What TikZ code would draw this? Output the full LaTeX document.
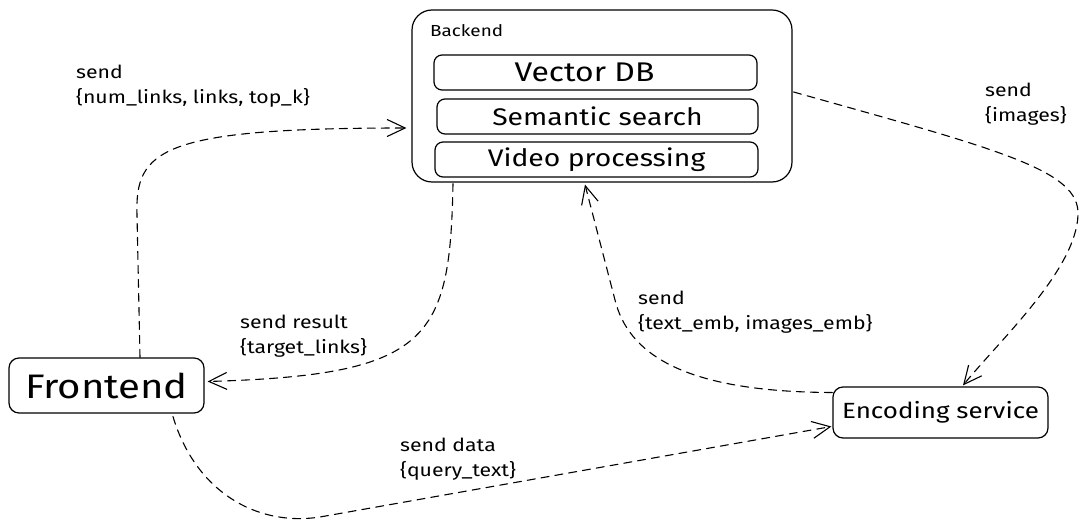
\documentclass[tikz,border=0pt]{standalone}
\usepackage{fontspec}
\setmainfont[FakeStretch=1.18]{Fira Sans}
\usetikzlibrary{arrows.meta,calc}
\begin{document}
\begin{tikzpicture}[x=1pt,y=-1pt,
  box/.style={draw, line width=1.2pt, rounded corners=8pt, inner sep=0pt, align=center},
  conn/.style={draw, line width=1.1pt, dash pattern=on 8pt off 6pt, line cap=round,
    -{Straight Barb[length=18pt,width=17pt,line width=1.1pt]}},
  lbl/.style={anchor=north west, inner sep=0pt, align=left, font=\fontsize{18}{25}\selectfont}]
\useasboundingbox (0,0) rectangle (1088,529);
% boxes
\node[box, rounded corners=20pt, minimum width=380pt, minimum height=172pt] (backend) at (602,96) {};
\node[anchor=base west, inner sep=0pt, font=\fontsize{16}{19}\selectfont] (backendlbl) at (430,37) {Backend};
\node[box, minimum width=323pt, minimum height=35pt, font=\fontsize{27}{30}\selectfont] (vdb) at (595.5,72.5) {Vector DB\hspace*{22pt}};
\node[box, minimum width=321pt, minimum height=35pt, font=\fontsize{24}{28}\selectfont] (sem) at (597.5,116.5) {Semantic search};
\node[box, minimum width=323pt, minimum height=35pt, font=\fontsize{24}{28}\selectfont] (vid) at (596.5,159.5) {Video processing};
\node[box, rounded corners=10pt, minimum width=195pt, minimum height=55pt, font=\fontsize{34}{38}\selectfont] (frontend) at (106.5,385.5) {Frontend};
\node[box, rounded corners=10pt, minimum width=215pt, minimum height=51pt, font=\fontsize{22}{26}\selectfont] (encoding) at (940.5,412.5) {Encoding service};
% connectors
\path[conn] ($(frontend.north)+(33.5,0)$) -- (137,215) .. controls (135,150) and (160,128) .. ($(backend.west)+(-5,32)$);
\path[conn] ($(backend.south)+(-149,1)$) .. controls (450,340) and (430,375) .. ($(frontend.east)+(3,-4)$);
\path[conn] ($(backend.east)+(1,-4)$) .. controls (1000,150) and (1080,170) .. (1078,215) .. controls (1076,270) and (1000,340) .. ($(encoding.north)+(22.5,-1)$);
\path[conn] ($(encoding.west)+(0,-20)$) .. controls (680,392) and (628,352) .. (615,300) -- ($(backend.south)+(-17,2)$);
\path[conn] ($(frontend.south)+(66.5,3)$) .. controls (195,490) and (255,527) .. (320,517) -- ($(encoding.west)+(-1,14)$);
% labels
\node[lbl] (l1) at (76,65) {send\\\{num\_links, links, top\_k\}};
\node[lbl] (l2) at (240,315) {send result\\\{target\_links\}};
\node[lbl] (l3) at (985,83) {send\\\{images\}};
\node[lbl] (l4) at (638,291) {send\\\{text\_emb, images\_emb\}};
\node[lbl] (l5) at (400,438) {send data\\\{query\_text\}};
\end{tikzpicture}
\end{document}
